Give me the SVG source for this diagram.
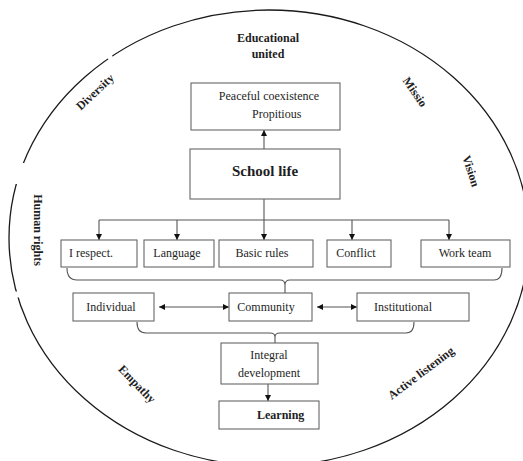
<svg xmlns="http://www.w3.org/2000/svg" width="523" height="461" viewBox="0 0 523 461">
  <style>
    .box { fill: #ffffff; stroke: #666666; stroke-width: 1.1; }
    .t { font-family: "Liberation Serif", "Times New Roman", serif; font-size: 12px; fill: #1e1e1e; }
    .b { font-weight: bold; }
    .mid { text-anchor: middle; }
    .ring { fill: none; stroke: #1a1a1a; stroke-width: 1.3; }
    .wire { fill: none; stroke: #555555; stroke-width: 1.1; }
    .arrow { marker-end: url(#head); }
    .both { marker-start: url(#headStart); marker-end: url(#head); }
  </style>
  <defs>
    <marker id="head" viewBox="0 0 10 10" refX="10" refY="5" markerWidth="6" markerHeight="6" markerUnits="userSpaceOnUse" orient="auto">
      <path d="M0,0 L10,5 L0,10 Z" fill="#111111"/>
    </marker>
    <marker id="headStart" viewBox="0 0 10 10" refX="0" refY="5" markerWidth="6" markerHeight="6" markerUnits="userSpaceOnUse" orient="auto">
      <path d="M10,0 L0,5 L10,10 Z" fill="#111111"/>
    </marker>
    <!-- breaks in the outer ring -->
    <mask id="ringBreaks" maskUnits="userSpaceOnUse" x="0" y="0" width="523" height="461">
      <rect x="0" y="0" width="523" height="461" fill="#ffffff"/>
      <circle cx="110" cy="57" r="2.6" fill="#000000"/>
      <rect x="0" y="163" width="45" height="21" fill="#000000"/>
      <rect x="0" y="291.5" width="45" height="6" fill="#000000"/>
    </mask>
  </defs>

  <rect width="523" height="461" fill="#ffffff"/>

  <!-- outer ring -->
  <g id="ring" mask="url(#ringBreaks)">
    <ellipse class="ring" cx="269" cy="238" rx="260" ry="228"/>
  </g>

  <!-- labels along the ring -->
  <g id="ring-labels">
    <text class="t b mid" x="268" y="42">Educational</text>
    <text class="t b mid" x="268" y="58">united</text>
    <text class="t b mid" transform="translate(95,92) rotate(-43)" x="0" y="4">Diversity</text>
    <text class="t b mid" transform="translate(415,92) rotate(56)" x="0" y="4">Missio</text>
    <text class="t b mid" transform="translate(471,171) rotate(72)" x="0" y="4">Vision</text>
    <text class="t b mid" transform="translate(38,230) rotate(90)" x="0" y="4">Human rights</text>
    <text class="t b mid" transform="translate(137,384) rotate(46)" x="0" y="4">Empathy</text>
    <text class="t b mid" transform="translate(421,373) rotate(-37)" x="0" y="4">Active listening</text>
  </g>

  <!-- connectors -->
  <g id="connectors">
    <line class="wire arrow" x1="264" y1="149" x2="264" y2="130"/>
    <polyline class="wire" points="264,199 264,220"/>
    <line class="wire" x1="99" y1="220" x2="449" y2="220"/>
    <line class="wire arrow" x1="99" y1="220" x2="99" y2="240"/>
    <line class="wire arrow" x1="177" y1="220" x2="177" y2="240"/>
    <line class="wire arrow" x1="264" y1="220" x2="264" y2="240"/>
    <line class="wire arrow" x1="352" y1="220" x2="352" y2="240"/>
    <line class="wire arrow" x1="449" y1="220" x2="449" y2="240"/>
    <!-- brace gathering the first row into Community -->
    <path class="wire" d="M67,268 Q67,280 77,280 L280,280 Q285,280 285,285 L285,293 M285,285 Q285,280 290,280 L494,280 Q502,280 502,268"/>
    <line class="wire both" x1="159" y1="307" x2="229" y2="307"/>
    <line class="wire both" x1="317" y1="307" x2="357" y2="307"/>
    <!-- brace gathering the second row into Integral development -->
    <path class="wire" d="M137,322 Q137,333 146,333 L270,333 Q275,333 275,337 L275,343 M275,337 Q275,333 280,333 L406,333 Q414,333 414,322"/>
    <line class="wire arrow" x1="268" y1="384" x2="268" y2="401"/>
  </g>

  <g id="peaceful">
    <rect class="box" x="191" y="83" width="149" height="47"/>
    <text class="t mid" x="269" y="100">Peaceful coexistence</text>
    <text class="t" x="252" y="118">Propitious</text>
  </g>
  <g id="school-life">
    <rect class="box" x="190" y="149" width="150" height="50"/>
    <text class="t b mid" x="265" y="176" style="font-size:15px">School life</text>
  </g>
  <g id="respect">
    <rect class="box" x="61" y="240" width="76" height="27"/>
    <text class="t" x="69" y="257">I respect.</text>
  </g>
  <g id="language">
    <rect class="box" x="144" y="240" width="70" height="27"/>
    <text class="t mid" x="177" y="257">Language</text>
  </g>
  <g id="basic-rules">
    <rect class="box" x="219" y="240" width="94" height="27"/>
    <text class="t mid" x="262" y="257">Basic rules</text>
  </g>
  <g id="conflict">
    <rect class="box" x="327" y="240" width="64" height="27"/>
    <text class="t mid" x="356" y="257">Conflict</text>
  </g>
  <g id="work-team">
    <rect class="box" x="421" y="240" width="89" height="27"/>
    <text class="t mid" x="465" y="257">Work team</text>
  </g>
  <g id="individual">
    <rect class="box" x="73" y="293" width="81" height="28"/>
    <text class="t mid" x="111" y="311">Individual</text>
  </g>
  <g id="community">
    <rect class="box" x="229" y="293" width="83" height="28"/>
    <text class="t mid" x="266" y="311">Community</text>
  </g>
  <g id="institutional">
    <rect class="box" x="357" y="293" width="112" height="28"/>
    <text class="t mid" x="403" y="311">Institutional</text>
  </g>
  <g id="integral-development">
    <rect class="box" x="221" y="343" width="97" height="41"/>
    <text class="t mid" x="269" y="359">Integral</text>
    <text class="t mid" x="269" y="377">development</text>
  </g>
  <g id="learning">
    <rect class="box" x="219" y="401" width="100" height="28"/>
    <text class="t b" x="257" y="419">Learning</text>
  </g>
</svg>
